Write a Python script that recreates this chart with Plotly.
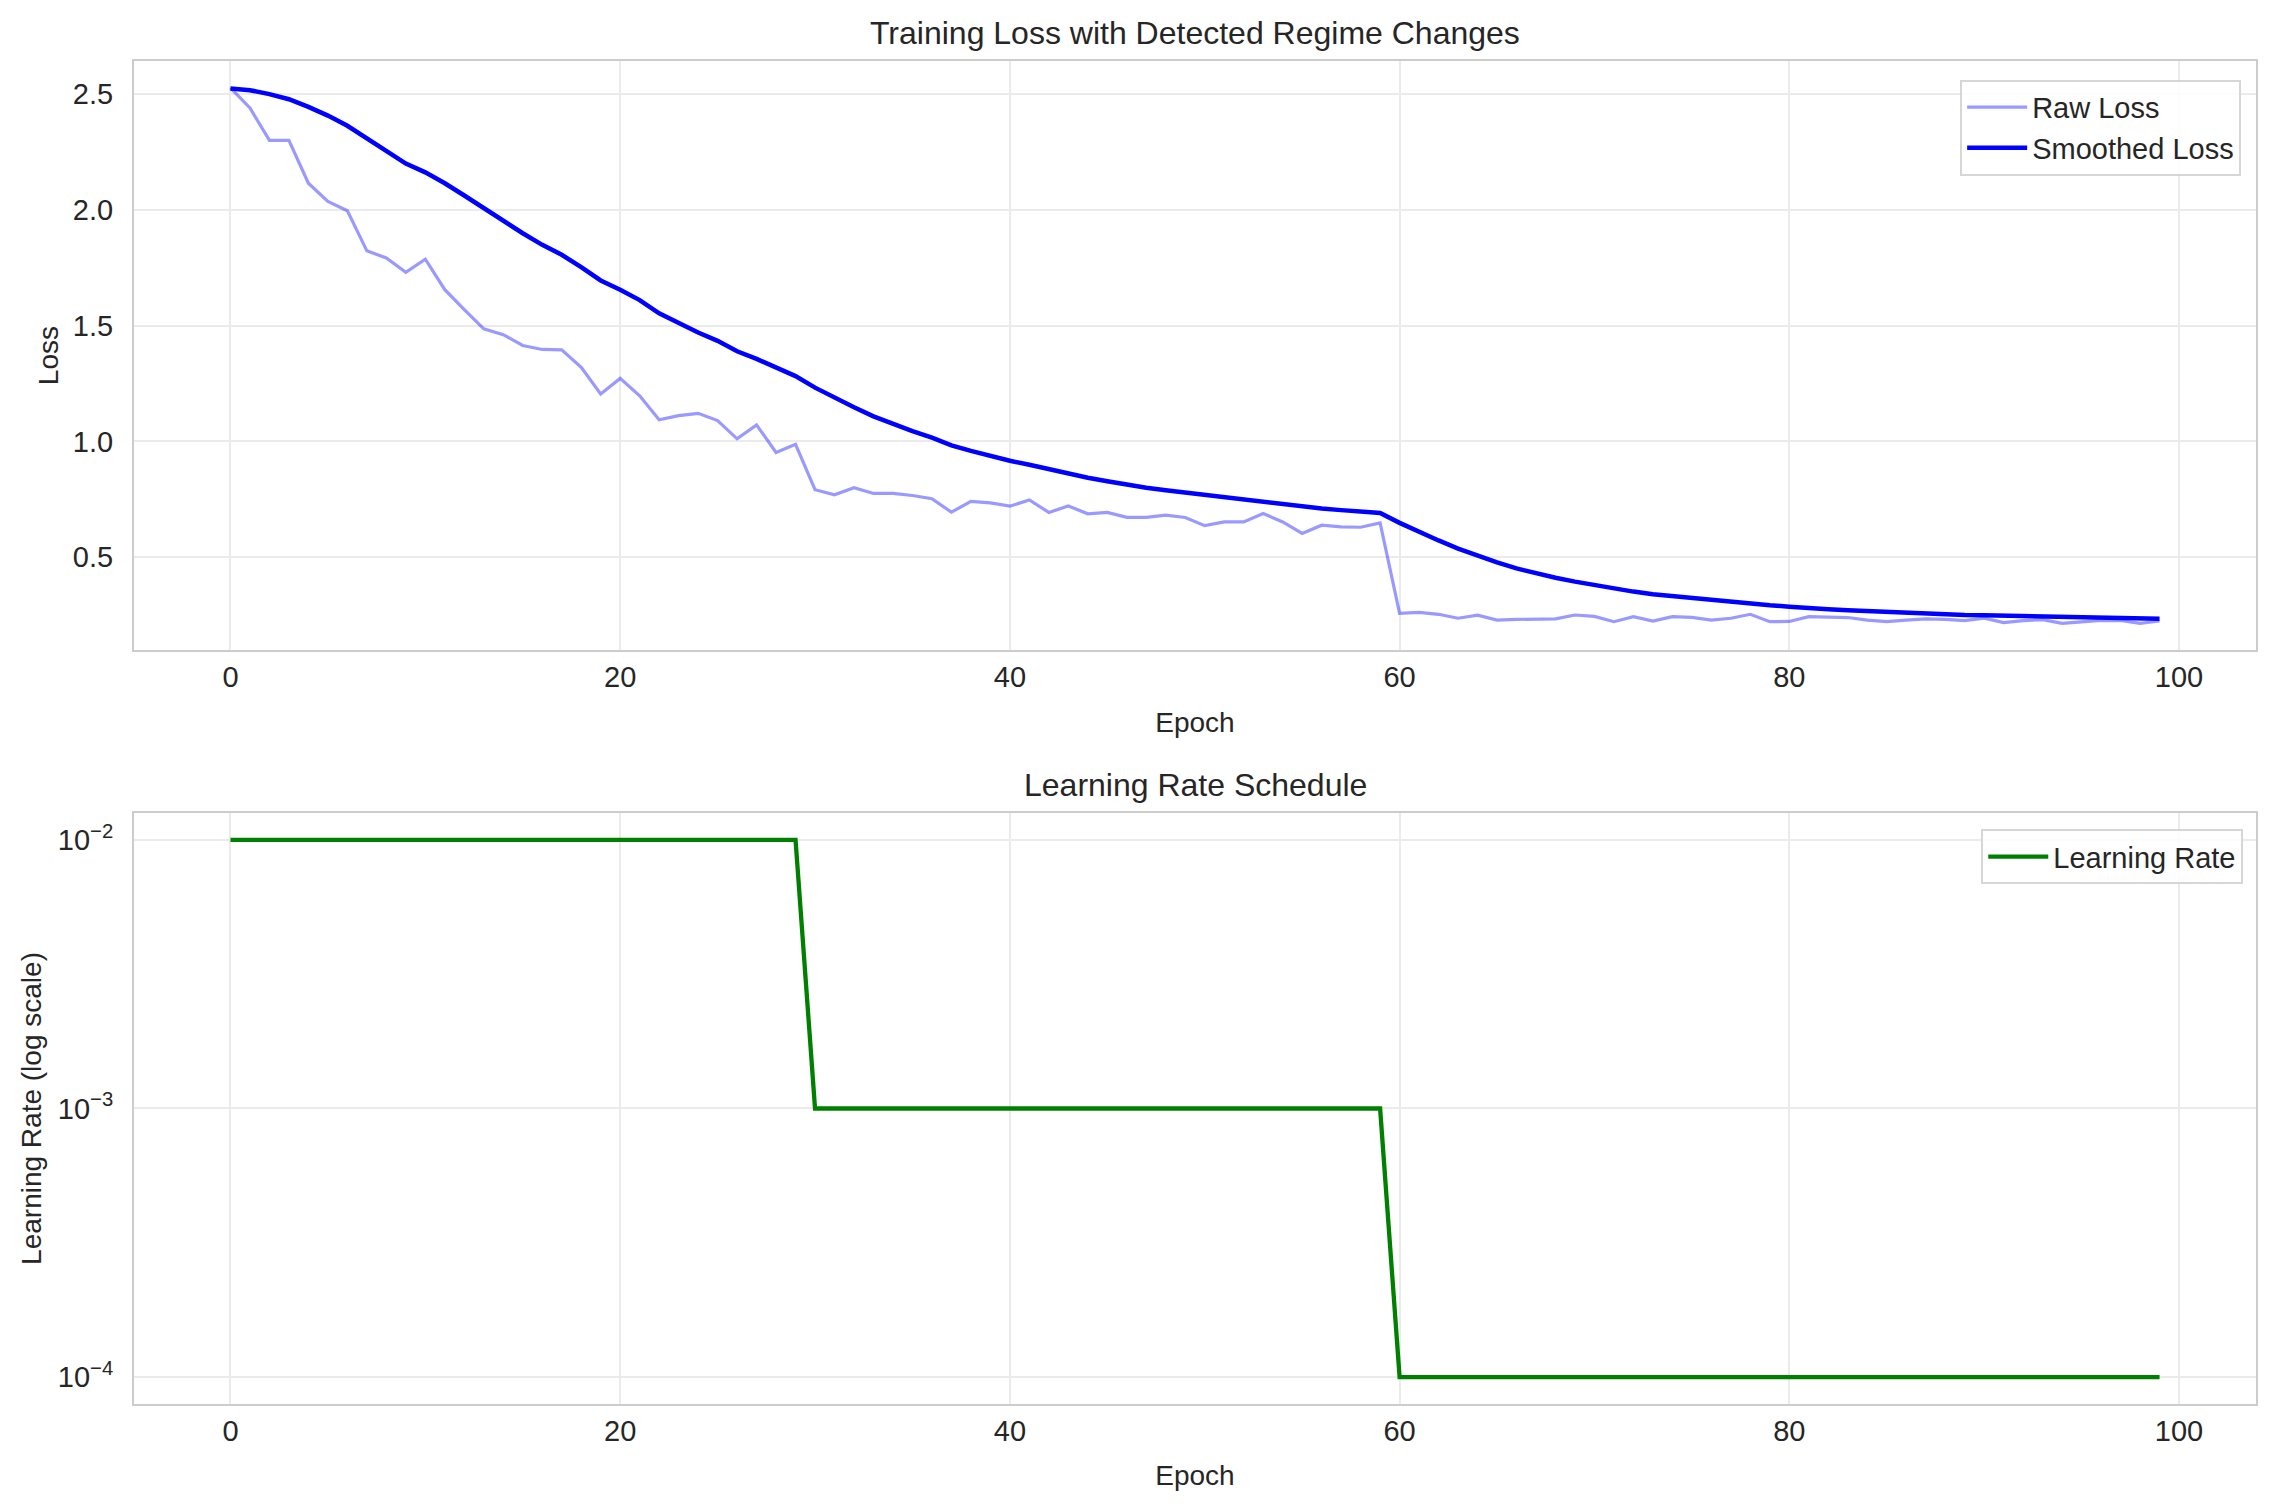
import plotly.graph_objects as go
from plotly.subplots import make_subplots

# DATOS
epocas = list(range(100))

perdida_cruda = [
    2.527, 2.44, 2.30, 2.30, 2.115, 2.036, 1.996, 1.823, 1.792, 1.73,
    1.787, 1.655, 1.569, 1.486, 1.461, 1.414, 1.397, 1.395, 1.32, 1.205,
    1.272, 1.197, 1.093, 1.111, 1.121, 1.09, 1.011, 1.071, 0.952, 0.987,
    0.791, 0.769, 0.80, 0.775, 0.775, 0.766, 0.752, 0.694, 0.741, 0.734,
    0.72, 0.747, 0.693, 0.721, 0.687, 0.693, 0.672, 0.672, 0.681, 0.671,
    0.636, 0.652, 0.652, 0.688, 0.652, 0.602, 0.638, 0.631, 0.629, 0.648,
    0.257, 0.261, 0.253, 0.236, 0.249, 0.228, 0.231, 0.233, 0.233, 0.25,
    0.244, 0.221, 0.243, 0.224, 0.243, 0.24, 0.228, 0.236, 0.253, 0.221,
    0.222, 0.243, 0.24, 0.239, 0.228, 0.221, 0.228, 0.233, 0.231, 0.226,
    0.236, 0.217, 0.226, 0.23, 0.214, 0.221, 0.227, 0.226, 0.214, 0.224,
]

perdida_suavizada = [
    2.524, 2.517, 2.50, 2.478, 2.445, 2.407, 2.363, 2.309, 2.254, 2.20,
    2.162, 2.115, 2.062, 2.007, 1.953, 1.899, 1.849, 1.806, 1.753, 1.695,
    1.655, 1.61, 1.553, 1.51, 1.47, 1.434, 1.389, 1.356, 1.318, 1.282,
    1.232, 1.187, 1.147, 1.108, 1.075, 1.044, 1.016, 0.983, 0.959, 0.936,
    0.916, 0.899, 0.879, 0.862, 0.843, 0.828, 0.813, 0.80, 0.789, 0.779,
    0.766, 0.756, 0.746, 0.739, 0.728, 0.717, 0.71, 0.703, 0.695, 0.691,
    0.648, 0.609, 0.572, 0.537, 0.506, 0.477, 0.451, 0.43, 0.411, 0.394,
    0.379, 0.365, 0.351, 0.34, 0.332, 0.322, 0.313, 0.306, 0.30, 0.292,
    0.286, 0.279, 0.275, 0.27, 0.266, 0.262, 0.259, 0.256, 0.253, 0.25,
    0.249, 0.247, 0.245, 0.243, 0.24, 0.239, 0.237, 0.236, 0.235, 0.234,
]

# Tasa de aprendizaje por tramos (30 / 30 / 40 épocas)
tasa_aprendizaje = [0.01] * 30 + [0.001] * 30 + [0.0001] * 40

ticks_x = [0, 20, 40, 60, 80, 100]
ticks_lr = [0.0001, 0.001, 0.01]
etiquetas_lr = ["10<sup>\u22124</sup>", "10<sup>\u22123</sup>", "10<sup>\u22122</sup>"]

# ESTILO (parecido a seaborn whitegrid)
FUENTE = "Liberation Sans, Arial, sans-serif"
TEXTO = "#262626"
BORDE = "#cccccc"
REJILLA = "#ebebeb"

fig = make_subplots(rows=2, cols=1)

fig.add_trace(go.Scatter(x=epocas, y=perdida_cruda, mode="lines", name="Raw Loss",
                         line=dict(color="rgba(0,0,255,0.4)", width=3.2),
                         legend="legend"), row=1, col=1)
fig.add_trace(go.Scatter(x=epocas, y=perdida_suavizada, mode="lines", name="Smoothed Loss",
                         line=dict(color="#0000ff", width=4.5),
                         legend="legend"), row=1, col=1)
fig.add_trace(go.Scatter(x=epocas, y=tasa_aprendizaje, mode="lines", name="Learning Rate",
                         line=dict(color="#008000", width=4.3),
                         legend="legend2"), row=2, col=1)

ejes_comunes = dict(
    showline=True, mirror=True, linecolor=BORDE, linewidth=2,
    showgrid=True, gridcolor=REJILLA, gridwidth=1.5,
    zeroline=False, ticks="",
    tickfont=dict(size=29, color=TEXTO, family=FUENTE),
)

for fila in (1, 2):
    fig.update_xaxes(range=[-4.95, 103.95], tickvals=ticks_x, ticklabelstandoff=0,
                     title=dict(text="Epoch", font=dict(size=28, color=TEXTO, family=FUENTE), standoff=20),
                     row=fila, col=1, **ejes_comunes)

fig.update_yaxes(range=[0.098, 2.643], tick0=0.5, dtick=0.5, tickformat=".1f", ticklabelstandoff=13,
                 title=dict(text="Loss", font=dict(size=28, color=TEXTO, family=FUENTE), standoff=6),
                 row=1, col=1, **ejes_comunes)
fig.update_yaxes(type="log", range=[-4.1, -1.9], tickvals=ticks_lr, ticktext=etiquetas_lr, ticklabelstandoff=13,
                 title=dict(text="Learning Rate (log scale)", font=dict(size=28, color=TEXTO, family=FUENTE), standoff=8),
                 row=2, col=1, **ejes_comunes)

# Posición de los paneles (la página añade 8 px de margen al body)
DOMINIO_ARRIBA = [0.5613, 1.0]
DOMINIO_ABAJO = [0.0, 0.4401]

leyenda_comun = dict(
    xref="paper", yref="paper", xanchor="right", yanchor="top",
    bgcolor="rgba(255,255,255,0.85)", bordercolor="#d6d6d6", borderwidth=2,
    font=dict(size=29, color=TEXTO, family=FUENTE), itemwidth=60,
)

fig.update_layout(
    width=2269, height=1501,
    margin=dict(l=126, r=21, t=53, b=105),
    paper_bgcolor="white", plot_bgcolor="white",
    font=dict(family=FUENTE, color=TEXTO),
    yaxis=dict(domain=DOMINIO_ARRIBA),
    yaxis2=dict(domain=DOMINIO_ABAJO),
    legend=dict(x=0.993, y=0.986, **leyenda_comun),
    legend2=dict(x=0.994, y=0.428, **leyenda_comun),
)

# Títulos de cada panel
titulos = [("Training Loss with Detected Regime Changes", DOMINIO_ARRIBA[1]),
           ("Learning Rate Schedule", DOMINIO_ABAJO[1])]
for texto, y_top in titulos:
    fig.add_annotation(text=texto, x=0.5, y=y_top, xref="paper", yref="paper",
                       xanchor="center", yanchor="bottom", yshift=8, showarrow=False,
                       font=dict(size=32, color=TEXTO, family=FUENTE))

fig.write_html("out.html")
